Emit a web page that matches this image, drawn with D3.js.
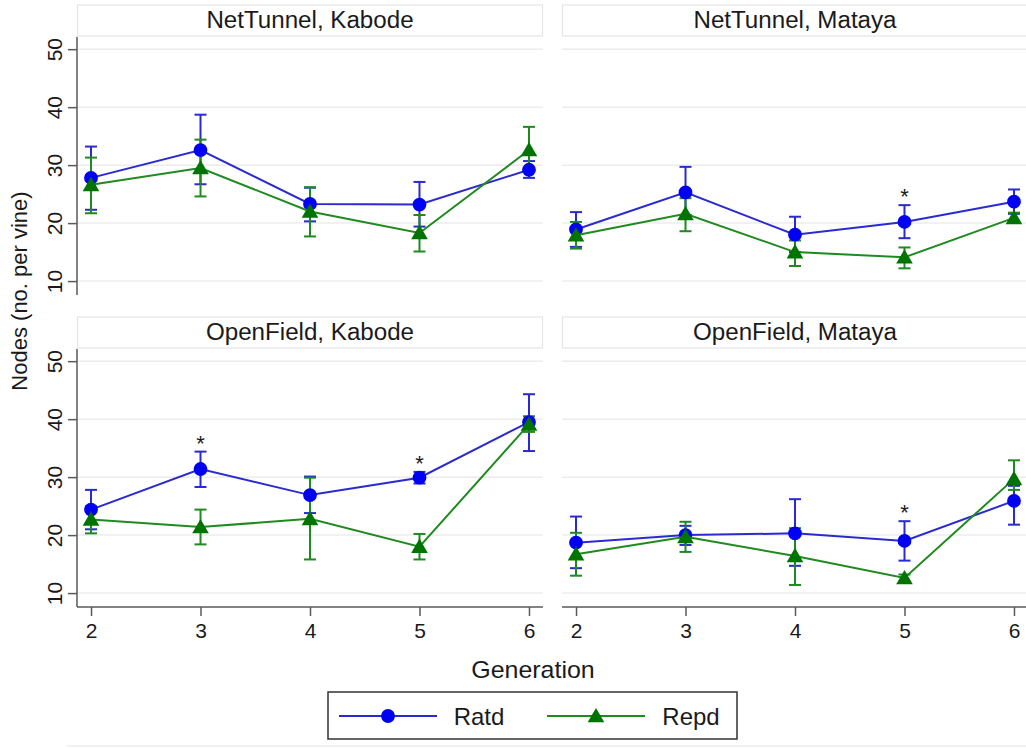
<!DOCTYPE html>
<html>
<head>
<meta charset="utf-8">
<script src="https://cdn.jsdelivr.net/npm/d3@7"></script>
<style>
  body { margin: 0; background: #fff; }
  svg { display: block; font-family: "Liberation Sans", Arial, sans-serif; }
</style>
</head>
<body>
<svg id="chart" width="1026" height="748"></svg>
<script>
// data
var generations = [2, 3, 4, 5, 6];
var panelTitles = ["NetTunnel, Kabode", "NetTunnel, Mataya", "OpenField, Kabode", "OpenField, Mataya"];
var yTicks = [10, 20, 30, 40, 50];
var seriesNames = ["Ratd", "Repd"];

// Ratd
var ratdMean = [
    [27.8, 32.6, 23.3, 23.2, 29.2],
    [18.9, 25.3, 18.0, 20.2, 23.7],
    [24.4, 31.4, 26.9, 29.9, 39.5],
    [18.7, 20.0, 20.3, 19.0, 25.9]
];
var ratdLow = [
    [22.3, 26.7, 20.3, 19.4, 27.8],
    [15.9, 21.4, 15.0, 17.4, 21.6],
    [21.0, 28.3, 23.8, 28.9, 34.5],
    [14.3, 18.3, 14.7, 15.6, 21.8]
];
var ratdHigh = [
    [33.2, 38.7, 26.1, 27.1, 30.7],
    [21.9, 29.7, 21.1, 23.1, 25.8],
    [27.8, 34.4, 30.1, 30.9, 44.3],
    [23.2, 21.6, 26.2, 22.4, 28.5]
];

// Repd
var repdMean = [
    [26.6, 29.5, 22.0, 18.3, 32.6],
    [17.9, 21.6, 15.0, 14.1, 20.9],
    [22.7, 21.4, 22.8, 18.0, 39.1],
    [16.7, 19.7, 16.4, 12.6, 29.7]
];
var repdLow = [
    [21.7, 24.6, 17.7, 15.1, 29.0],
    [15.6, 18.6, 12.6, 12.2, 20.1],
    [20.3, 18.4, 15.8, 15.8, 37.8],
    [13.0, 17.1, 11.4, 12.0, 27.8]
];
var repdHigh = [
    [31.3, 34.4, 26.2, 21.4, 36.6],
    [20.2, 24.3, 17.0, 15.8, 21.8],
    [25.0, 24.4, 29.9, 20.2, 40.5],
    [20.4, 22.3, 21.2, 13.2, 32.9]
];

// significant differences (panel index, generation)
var starPanels = [1, 2, 2, 3];
var starGens = [5, 3, 5, 5];

var svg = d3.select("#chart");

var plotW = 466, plotH = 258;
var colX = [77, 562];
var rowY = [37, 349];
var stripH = 31;

var x = d3.scaleLinear().domain([1.872, 6.128]).range([0, plotW]);
var y = d3.scaleLinear().domain([7.6, 52.1]).range([plotH, 0]);

var styles = [
    { line: "#2a2ad2", fill: "#0000f5", shape: d3.symbolCircle, size: 150 },
    { line: "#1f8a1f", fill: "#007400", shape: d3.symbolTriangle, size: 120 }
];
var means = [ratdMean, repdMean];
var lows = [ratdLow, repdLow];
var highs = [ratdHigh, repdHigh];

var stretchText = function(g, tx, ty, str, size, sx, rot) {
    var t = "translate(" + tx + "," + ty + ")";
    if (rot) t += "rotate(" + rot + ")";
    t += "scale(" + sx + ",1)";
    return g.append("text")
        .attr("transform", t)
        .attr("text-anchor", "middle")
        .attr("font-size", size)
        .attr("fill", "#1a1a1a")
        .text(str);
};

panelTitles.forEach(function(title, p) {
    var col = p % 2, row = Math.floor(p / 2);
    var g = svg.append("g")
        .attr("transform", "translate(" + colX[col] + "," + rowY[row] + ")");

    // strip
    g.append("rect")
        .attr("x", 0.5).attr("y", -stripH - 1)
        .attr("width", plotW - 1).attr("height", stripH)
        .attr("fill", "#fff").attr("stroke", "#e4e4e4").attr("stroke-width", 1.2);
    stretchText(g, plotW / 2, -9, title, 23, 1.05);

    // grid
    g.append("g").selectAll("line").data(yTicks).enter().append("line")
        .attr("x1", 0).attr("x2", plotW)
        .attr("y1", function(d) { return y(d); })
        .attr("y2", function(d) { return y(d); })
        .attr("stroke", "#ececec").attr("stroke-width", 1.5);

    if (col === 0) {
        var ya = g.append("g")
            .call(d3.axisLeft(y).tickValues(yTicks).tickSize(9).tickPadding(0).tickFormat(d3.format("d")));
        ya.select(".domain").attr("stroke", "#5a5a5a").attr("stroke-width", 1.5)
            .attr("d", "M0,0V" + plotH);
        ya.selectAll(".tick line").attr("stroke", "#5a5a5a").attr("stroke-width", 1.5);
        ya.selectAll(".tick text")
            .attr("font-size", 21).attr("fill", "#1a1a1a")
            .attr("x", null).attr("dy", null)
            .attr("transform", "translate(-15,0)rotate(-90)")
            .attr("text-anchor", "middle");
    }
    if (row === 1) {
        var xa = g.append("g")
            .attr("transform", "translate(0," + plotH + ")")
            .call(d3.axisBottom(x).tickValues(generations).tickSize(9).tickPadding(7).tickFormat(d3.format("d")));
        xa.select(".domain").attr("stroke", "#5a5a5a").attr("stroke-width", 1.5)
            .attr("d", "M0,0H" + plotW);
        xa.selectAll(".tick line").attr("stroke", "#5a5a5a").attr("stroke-width", 1.5);
        xa.selectAll(".tick text").attr("font-size", 21).attr("fill", "#1a1a1a");
    }

    // error bars (caps)
    [0, 1].forEach(function(s) {
        var eg = g.append("g")
            .attr("stroke", styles[s].line).attr("stroke-width", 2).attr("fill", "none");
        generations.forEach(function(gen, i) {
            var cx = x(gen), lo = y(lows[s][p][i]), hi = y(highs[s][p][i]);
            eg.append("line").attr("x1", cx).attr("x2", cx).attr("y1", lo).attr("y2", hi);
            eg.append("line").attr("x1", cx - 6).attr("x2", cx + 6).attr("y1", lo).attr("y2", lo);
            eg.append("line").attr("x1", cx - 6).attr("x2", cx + 6).attr("y1", hi).attr("y2", hi);
        });
    });

    // connected lines + markers
    [0, 1].forEach(function(s) {
        var line = d3.line()
            .x(function(d, i) { return x(generations[i]); })
            .y(function(d) { return y(d); });
        g.append("path")
            .attr("d", line(means[s][p]))
            .attr("fill", "none")
            .attr("stroke", styles[s].line).attr("stroke-width", 2);
        g.append("g").selectAll("path").data(means[s][p]).enter().append("path")
            .attr("transform", function(d, i) {
                return "translate(" + x(generations[i]) + "," + (y(d) + (s === 1 ? 1.5 : 0)) + ")";
            })
            .attr("d", d3.symbol().type(styles[s].shape).size(styles[s].size))
            .attr("fill", styles[s].fill);
    });

    // stars above the Ratd upper cap
    starPanels.forEach(function(sp, k) {
        if (sp !== p) return;
        var i = generations.indexOf(starGens[k]);
        g.append("text")
            .attr("x", x(starGens[k]))
            .attr("y", y(ratdHigh[p][i]) - 1)
            .attr("text-anchor", "middle")
            .attr("font-size", 22)
            .attr("fill", "#1a1a1a")
            .text("*");
    });
});

// axis titles
stretchText(svg, 27, 291, "Nodes (no. per vine)", 22, 1, -90);
stretchText(svg, 533, 678, "Generation", 24, 1.04);

// legend
var legend = svg.append("g");
legend.append("rect")
    .attr("x", 328).attr("y", 692).attr("width", 409).attr("height", 47)
    .attr("fill", "#fff").attr("stroke", "#333").attr("stroke-width", 1.5);
var legX = [339, 547];
var legTextX = [479, 691];
seriesNames.forEach(function(name, s) {
    legend.append("line")
        .attr("x1", legX[s]).attr("x2", legX[s] + 98)
        .attr("y1", 716).attr("y2", 716)
        .attr("stroke", styles[s].line).attr("stroke-width", 2);
    legend.append("path")
        .attr("transform", "translate(" + (legX[s] + 49) + "," + (716 + (s === 1 ? 1.5 : 0)) + ")")
        .attr("d", d3.symbol().type(styles[s].shape).size(styles[s].size))
        .attr("fill", styles[s].fill);
    stretchText(legend, legTextX[s], 725, name, 24, 1);
});

// faint outer frame line at the bottom
svg.append("line")
    .attr("x1", 67).attr("x2", 1026).attr("y1", 746).attr("y2", 746)
    .attr("stroke", "#ececec").attr("stroke-width", 1.5);
</script>
</body>
</html>
